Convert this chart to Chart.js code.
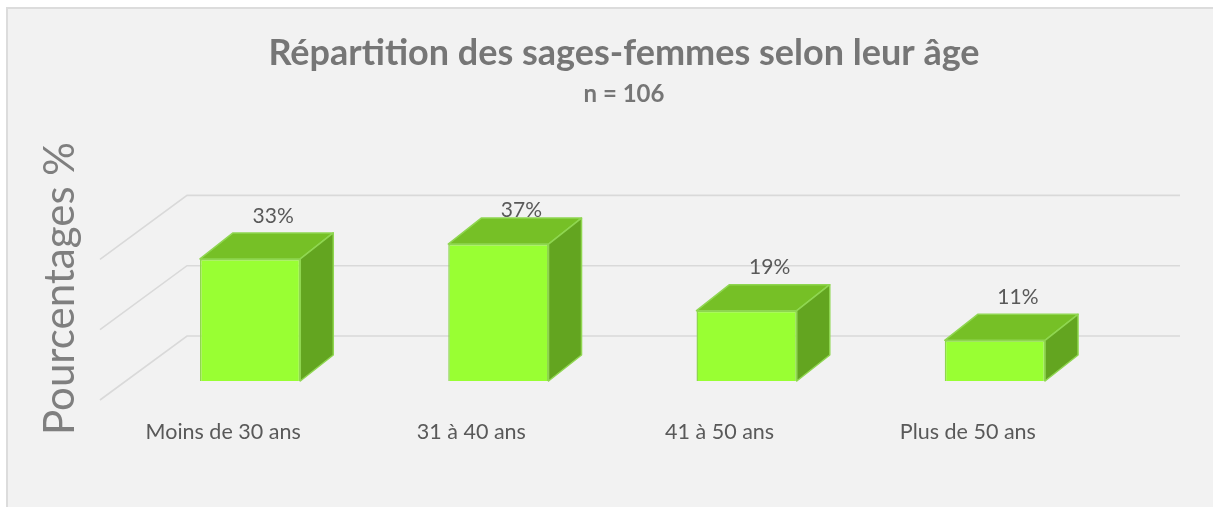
<!DOCTYPE html>
<html>
<head>
<meta charset="utf-8">
<script src="https://cdn.jsdelivr.net/npm/chart.js@4.4.1/dist/chart.umd.min.js"></script>
<style>
  html, body { margin: 0; padding: 0; background: #fff; overflow: hidden; }
  #frame { position: absolute; left: 6px; top: 7px; width: 1240px; height: 540px; background: #f2f2f2; border: 2px solid #dcdcdc; }
  #wrap { position: absolute; left: 0; top: 0; width: 1213px; height: 507px; }
</style>
</head>
<body>
<div id="frame"></div>
<div id="wrap"><canvas id="ageChart"></canvas></div>
<script>
const categories = ['Moins de 30 ans', '31 à 40 ans', '41 à 50 ans', 'Plus de 50 ans'];
const percentages = [33, 37, 19, 11];
const gridValues = [0, 20, 40];

// 3D look: bar depth and where the floor / back wall sit relative to the bar fronts
const barDepth = { dx: 33, dy: -26 };
const floorFront = { dx: -26, dy: 19 };
const backWall = { dx: 61, dy: -45 };
const backShrink = 0.95;

const box3d = {
    id: 'box3d',
    beforeDatasetsDraw(chart) {
        const { ctx, chartArea: area, scales: { y } } = chart;
        const zero = y.getPixelForValue(0);
        ctx.save();
        ctx.strokeStyle = '#d9d9d9';
        ctx.lineWidth = 1.6;
        gridValues.forEach(v => {
            const yBack = zero + backWall.dy - (zero - y.getPixelForValue(v)) * backShrink;
            const yFront = yBack + (floorFront.dy - backWall.dy);
            ctx.beginPath();
            ctx.moveTo(area.left + floorFront.dx, yFront);
            ctx.lineTo(area.left + backWall.dx, yBack);
            ctx.lineTo(area.right + backWall.dx, yBack);
            ctx.stroke();
        });
        ctx.restore();
    },
    afterDatasetsDraw(chart) {
        const { ctx, chartArea: area } = chart;
        const meta = chart.getDatasetMeta(0);
        ctx.save();
        ctx.lineWidth = 1.5;
        ctx.strokeStyle = '#8fd650';
        ctx.lineJoin = 'round';
        meta.data.forEach((bar, i) => {
            const { x, y, base, width } = bar.getProps(['x', 'y', 'base', 'width'], true);
            const l = x - width / 2, r = x + width / 2;
            const { dx, dy } = barDepth;
            // top face
            ctx.beginPath();
            ctx.moveTo(l, y);
            ctx.lineTo(l + dx, y + dy);
            ctx.lineTo(r + dx, y + dy);
            ctx.lineTo(r, y);
            ctx.closePath();
            ctx.fillStyle = '#76c026';
            ctx.fill();
            ctx.stroke();
            // side face
            ctx.beginPath();
            ctx.moveTo(r, y);
            ctx.lineTo(r + dx, y + dy);
            ctx.lineTo(r + dx, base + dy);
            ctx.lineTo(r, base);
            ctx.closePath();
            ctx.fillStyle = '#63a520';
            ctx.fill();
            ctx.stroke();

            // value label
            ctx.fillStyle = '#595959';
            ctx.font = '21px Lato';
            ctx.textAlign = 'center';
            ctx.textBaseline = 'middle';
            const ly = Math.max(y + dy - 17, area.top + 14);
            ctx.fillText(percentages[i] + '%', x + 23, ly);
        });
        ctx.restore();
    }
};

const ctx = document.getElementById('ageChart').getContext('2d');

const ageChart = new Chart(ctx, {
    type: 'bar',
    data: {
        labels: categories,
        datasets: [{
            data: percentages,
            backgroundColor: '#99ff33',
            borderColor: '#8fd650',
            borderWidth: 1.5,
            barPercentage: 0.8,
            categoryPercentage: 0.505
        }]
    },
    options: {
        responsive: true,
        maintainAspectRatio: false,
        animation: false,
        layout: { padding: { left: 35, right: 0, top: 0, bottom: 0 } },
        plugins: {
            legend: { display: false },
            tooltip: { enabled: false },
            title: {
                display: true,
                text: 'Répartition des sages-femmes selon leur âge',
                color: '#767676',
                font: { family: 'Lato', size: 36, weight: 'bold' },
                padding: { top: 32, bottom: 0 }
            },
            subtitle: {
                display: true,
                text: 'n = 106',
                color: '#767676',
                font: { family: 'Lato', size: 24, weight: 'bold' },
                padding: { top: 5, bottom: 87 }
            }
        },
        scales: {
            x: {
                grid: { display: false, drawTicks: false },
                border: { display: false },
                ticks: {
                    color: '#595959',
                    font: { family: 'Lato', size: 21.5 },
                    padding: 38,
                    labelOffset: -27,
                    maxRotation: 0,
                    autoSkip: false
                },
                afterFit(scale) { scale.height = 126; }
            },
            y: {
                min: 0,
                max: 50,
                grid: { display: false, drawTicks: false },
                border: { display: false },
                ticks: { display: false, stepSize: 20 },
                title: {
                    display: true,
                    text: 'Pourcentages %',
                    color: '#7f7f7f',
                    font: { family: 'Lato', size: 42 },
                    padding: { top: 0, bottom: 0 }
                },
                afterFit(scale) { scale.width = 91; }
            },
            yRight: {
                axis: 'y',
                position: 'right',
                grid: { display: false, drawTicks: false },
                border: { display: false },
                ticks: { display: false },
                afterFit(scale) { scale.width = 94; }
            }
        }
    },
    plugins: [box3d]
});
</script>
</body>
</html>
